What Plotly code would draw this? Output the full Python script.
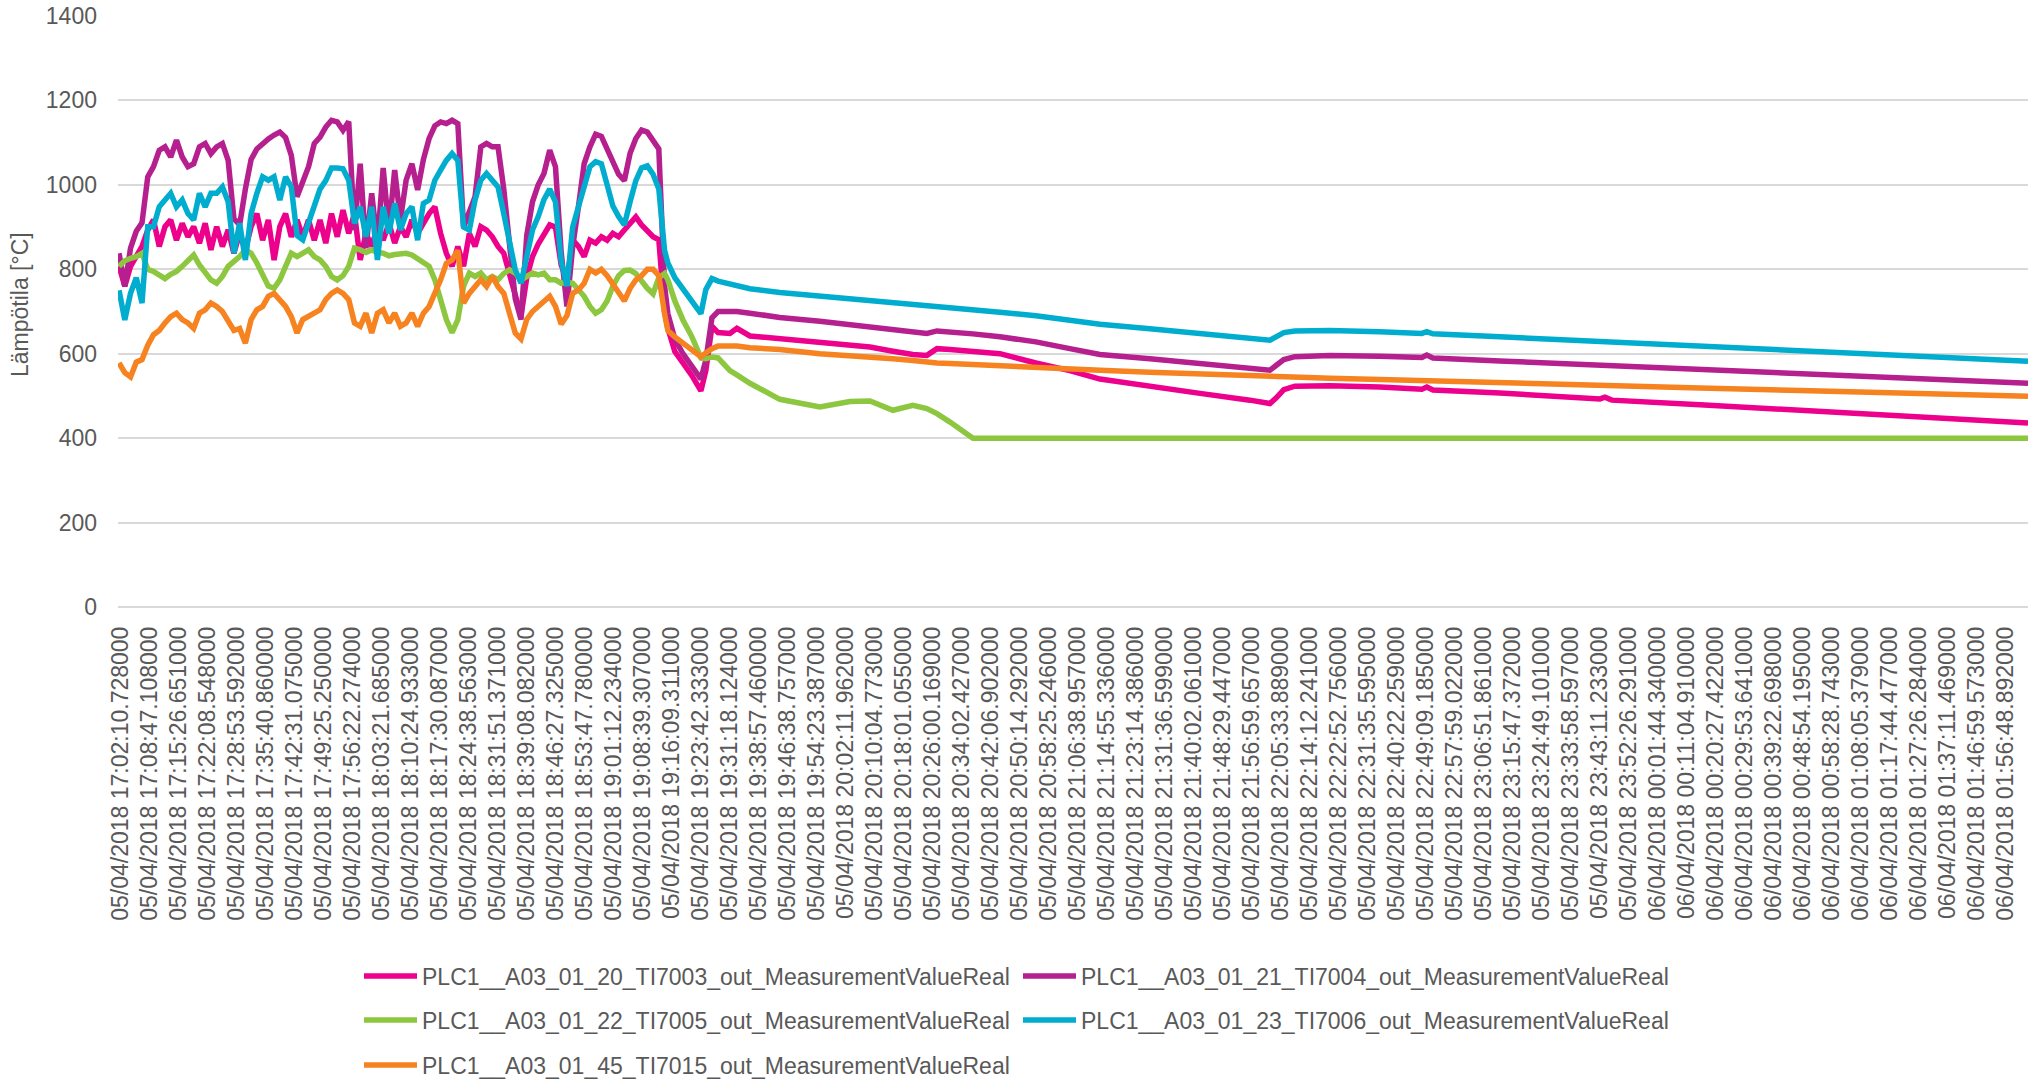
import plotly.graph_objects as go

# ---------------- data ----------------
tick_labels = [
    "05/04/2018 17:02:10.728000", "05/04/2018 17:08:47.108000", "05/04/2018 17:15:26.651000",
    "05/04/2018 17:22:08.548000", "05/04/2018 17:28:53.592000", "05/04/2018 17:35:40.860000",
    "05/04/2018 17:42:31.075000", "05/04/2018 17:49:25.250000", "05/04/2018 17:56:22.274000",
    "05/04/2018 18:03:21.685000", "05/04/2018 18:10:24.933000", "05/04/2018 18:17:30.087000",
    "05/04/2018 18:24:38.563000", "05/04/2018 18:31:51.371000", "05/04/2018 18:39:08.082000",
    "05/04/2018 18:46:27.325000", "05/04/2018 18:53:47.780000", "05/04/2018 19:01:12.234000",
    "05/04/2018 19:08:39.307000", "05/04/2018 19:16:09.311000", "05/04/2018 19:23:42.333000",
    "05/04/2018 19:31:18.124000", "05/04/2018 19:38:57.460000", "05/04/2018 19:46:38.757000",
    "05/04/2018 19:54:23.387000", "05/04/2018 20:02:11.962000", "05/04/2018 20:10:04.773000",
    "05/04/2018 20:18:01.055000", "05/04/2018 20:26:00.169000", "05/04/2018 20:34:02.427000",
    "05/04/2018 20:42:06.902000", "05/04/2018 20:50:14.292000", "05/04/2018 20:58:25.246000",
    "05/04/2018 21:06:38.957000", "05/04/2018 21:14:55.336000", "05/04/2018 21:23:14.386000",
    "05/04/2018 21:31:36.599000", "05/04/2018 21:40:02.061000", "05/04/2018 21:48:29.447000",
    "05/04/2018 21:56:59.657000", "05/04/2018 22:05:33.889000", "05/04/2018 22:14:12.241000",
    "05/04/2018 22:22:52.756000", "05/04/2018 22:31:35.595000", "05/04/2018 22:40:22.259000",
    "05/04/2018 22:49:09.185000", "05/04/2018 22:57:59.022000", "05/04/2018 23:06:51.861000",
    "05/04/2018 23:15:47.372000", "05/04/2018 23:24:49.101000", "05/04/2018 23:33:58.597000",
    "05/04/2018 23:43:11.233000", "05/04/2018 23:52:26.291000", "06/04/2018 00:01:44.340000",
    "06/04/2018 00:11:04.910000", "06/04/2018 00:20:27.422000", "06/04/2018 00:29:53.641000",
    "06/04/2018 00:39:22.698000", "06/04/2018 00:48:54.195000", "06/04/2018 00:58:28.743000",
    "06/04/2018 01:08:05.379000", "06/04/2018 01:17:44.477000", "06/04/2018 01:27:26.284000",
    "06/04/2018 01:37:11.469000", "06/04/2018 01:46:59.573000", "06/04/2018 01:56:48.892000",
]

series_names = [
    "PLC1__A03_01_20_TI7003_out_MeasurementValueReal",
    "PLC1__A03_01_21_TI7004_out_MeasurementValueReal",
    "PLC1__A03_01_22_TI7005_out_MeasurementValueReal",
    "PLC1__A03_01_23_TI7006_out_MeasurementValueReal",
    "PLC1__A03_01_45_TI7015_out_MeasurementValueReal",
]
series_colors = ["#EC008C", "#B51F8E", "#8DC63F", "#00ADCF", "#F68220"]

# sample positions, in units of the category-label index
x_noisy = [round(-0.064 + 0.198 * i, 3) for i in range(96)]
x_tail = [18.86, 19.10, 19.38, 19.69, 20.00, 20.17, 20.38, 20.59, 21.00, 21.24,
          21.69, 22.72, 24.10, 25.14, 25.83, 26.62, 27.31, 27.79, 28.14, 28.59,
          29.38, 30.31, 31.55, 32.72, 33.76, 35.48, 37.21, 38.93, 39.62, 39.83,
          40.10, 40.48, 41.69, 43.41, 44.86, 45.03, 45.24, 47.55, 51.00, 51.17,
          51.41, 54.45, 57.90, 61.34, 64.79, 65.76]

ti7003 = [807, 760, 807, 830, 854, 893, 917, 854, 901, 917,
          869, 909, 877, 901, 862, 909, 846, 901, 854, 893,
          838, 885, 846, 901, 932, 869, 917, 822, 901, 932,
          877, 917, 877, 917, 869, 917, 862, 932, 877, 940,
          885, 932, 822, 885, 854, 901, 869, 909, 862, 901,
          877, 917, 885, 909, 932, 948, 885, 838, 807, 854,
          807, 885, 854, 901, 893, 877, 854, 838, 791, 743,
          690, 780, 830, 860, 880, 905, 900, 810, 775, 869,
          854, 830, 869, 862, 877, 869, 885, 877, 893, 909,
          924, 905, 890, 877, 870, 700,
          660, 605, 578, 548, 512, 560, 665, 650, 648, 660,
          642, 636, 628, 620, 616, 606, 598, 596, 612, 610,
          606, 600, 578, 560, 540, 522, 506, 490, 482, 495,
          515, 523, 524, 521, 516, 521, 514, 507, 493, 497,
          490, 479, 466, 453, 440, 436]

ti7004 = [838, 760, 850, 890, 910, 1019, 1043, 1082, 1090, 1066,
          1106, 1066, 1043, 1050, 1090, 1098, 1074, 1090, 1098, 1058,
          920, 905, 990, 1060, 1085, 1098, 1109, 1118, 1125, 1112,
          1070, 972, 1011, 1043, 1098, 1113, 1137, 1153, 1149, 1129,
          1150, 893, 1050, 850, 980, 860, 1040, 893, 1035, 917,
          1011, 1050, 988, 1060, 1110, 1140, 1149, 1145, 1153, 1145,
          900, 932, 972, 1090, 1098, 1090, 1090, 990, 860, 730,
          681, 880, 960, 1000, 1027, 1082, 1043, 840, 712, 854,
          948, 1050, 1090, 1120, 1115, 1085, 1055, 1025, 1010, 1075,
          1110, 1130, 1125, 1105, 1085, 760,
          695, 635, 600, 570, 540, 585, 685, 700, 702, 700,
          696, 686, 677, 668, 663, 655, 650, 648, 654, 652,
          647, 640, 628, 612, 598, 588, 577, 566, 561, 572,
          586, 593, 596, 594, 591, 597, 590, 583, 573, 573,
          572, 563, 553, 543, 533, 530]

ti7005 = [807, 820, 826, 830, 838, 800, 795, 785, 778, 788,
          795, 807, 822, 834, 810, 791, 775, 767, 783, 807,
          818, 830, 846, 838, 815, 790, 760, 755, 775, 807,
          838, 830, 838, 846, 830, 822, 807, 783, 775, 785,
          807, 850, 846, 840, 846, 840, 838, 832, 835, 838,
          838, 834, 825, 815, 807, 775, 728, 681, 650, 681,
          760, 791, 783, 791, 775, 783, 775, 790, 799, 791,
          775, 783, 791, 787, 791, 775, 775, 767, 770, 767,
          751, 736, 712, 696, 704, 725, 760, 785, 797, 798,
          790, 770, 755, 742, 780, 790,
          775, 725, 680, 640, 590, 588, 592, 590, 560, 550,
          530, 492, 474, 487, 488, 466, 478, 470, 458, 438,
          400, 400, 400, 400, 400, 400, 400, 400, 400, 400,
          400, 400, 400, 400, 400, 400, 400, 400, 400, 400,
          400, 400, 400, 400, 400, 400]

ti7006 = [750, 680, 743, 780, 720, 901, 901, 948, 964, 980,
          948, 964, 932, 917, 980, 948, 980, 980, 995, 960,
          838, 909, 822, 932, 980, 1019, 1011, 1019, 964, 1019,
          995, 880, 870, 910, 960, 990, 1010, 1040, 1040, 1038,
          1011, 909, 948, 877, 948, 822, 948, 885, 956, 893,
          932, 948, 869, 956, 964, 1011, 1035, 1058, 1074, 1058,
          900, 893, 964, 1011, 1027, 1011, 995, 932, 869, 799,
          767, 838, 893, 925, 965, 990, 960, 820, 760, 900,
          948, 995, 1043, 1055, 1050, 1000, 950, 925, 905, 960,
          1010, 1040, 1045, 1025, 990, 845,
          815, 780, 754, 728, 695, 752, 778, 772, 765, 760,
          754, 745, 737, 730, 727, 722, 718, 715, 712, 710,
          705, 698, 690, 680, 670, 659, 648, 637, 632, 640,
          650, 654, 655, 652, 648, 652, 647, 640, 629, 629,
          628, 618, 607, 596, 585, 582]

ti7015 = [578, 555, 545, 580, 586, 620, 645, 655, 673, 688,
          696, 681, 673, 660, 696, 704, 720, 712, 700, 680,
          655, 660, 625, 681, 704, 712, 736, 743, 728, 712,
          688, 649, 681, 688, 696, 704, 728, 743, 751, 743,
          728, 673, 665, 696, 649, 696, 704, 673, 696, 665,
          673, 696, 665, 696, 712, 743, 775, 814, 822, 845,
          720, 743, 759, 775, 759, 783, 759, 743, 696, 649,
          635, 681, 700, 712, 725, 736, 712, 670, 690, 743,
          751, 767, 800, 791, 800, 785, 765, 745, 725, 755,
          775, 785, 800, 800, 785, 695,
          655, 640, 625, 610, 593, 602, 612, 618, 620, 618,
          614, 610, 600, 596, 592, 588, 584, 580, 578, 577,
          575, 573, 569, 565, 561, 556, 552, 547, 544, 544,
          543, 543, 542, 539, 536, 537, 536, 532, 526, 526,
          525, 519, 513, 507, 501, 499]

y_ticks = [0, 200, 400, 600, 800, 1000, 1200, 1400]
y_title = "Lämpötila [°C]"

# ---------------- figure ----------------
W, H = 2031, 1081
ML, MR, MT, MB = 118, 3, 16, 474
FONT = "Liberation Sans, Arial, sans-serif"
TXT = "#595959"
GRID = "#D9D9D9"

x_all = x_noisy + x_tail
values = [ti7003, ti7004, ti7005, ti7006, ti7015]
legend_ids = ["legend", "legend2", "legend3", "legend4", "legend5"]

fig = go.Figure()
for name, col, vals, lg in zip(series_names, series_colors, values, legend_ids):
    fig.add_trace(go.Scatter(
        x=x_all, y=vals, mode="lines", name=name,
        line=dict(color=col, width=5.5, shape="linear"),
        legend=lg, hoverinfo="skip",
    ))

plot_w = W - ML - MR
plot_h = H - MT - MB


def px_to_paper_x(px):
    return (px - ML) / plot_w


def py_to_paper_y(py):
    return (H - MB - py) / plot_h


col_x = [359, 1018]
row_y = [976, 1020, 1065]
legend_pos = [(col_x[0], row_y[0]), (col_x[1], row_y[0]),
              (col_x[0], row_y[1]), (col_x[1], row_y[1]),
              (col_x[0], row_y[2])]

layout_legends = {}
for lg, (lx, ly) in zip(legend_ids, legend_pos):
    layout_legends[lg] = dict(
        x=px_to_paper_x(lx), y=py_to_paper_y(ly),
        xanchor="left", yanchor="middle", orientation="h",
        itemwidth=53, bgcolor="rgba(0,0,0,0)", borderwidth=0,
        font=dict(family=FONT, size=23, color=TXT),
    )

fig.update_layout(
    template="none",
    width=W, height=H,
    margin=dict(l=ML, r=MR, t=MT, b=MB, pad=0, autoexpand=False),
    paper_bgcolor="white", plot_bgcolor="white",
    font=dict(family=FONT, size=23, color=TXT),
    showlegend=True,
    annotations=[dict(
        text=y_title, textangle=-90, showarrow=False,
        xref="paper", yref="paper",
        x=px_to_paper_x(20), y=py_to_paper_y(305),
        xanchor="center", yanchor="middle",
        font=dict(family=FONT, size=23, color=TXT),
    )],
    **layout_legends,
)

fig.update_xaxes(
    range=[-0.1, 65.76],
    tickmode="array", tickvals=list(range(len(tick_labels))), ticktext=tick_labels,
    tickangle=-90, showgrid=False, zeroline=False, showline=False, ticks="",
    tickfont=dict(family=FONT, size=23, color=TXT),
    ticklabelstandoff=14, automargin=False,
)
fig.update_yaxes(
    range=[0, 1400], tickmode="array", tickvals=y_ticks,
    showgrid=True, gridcolor=GRID, gridwidth=1.6,
    zeroline=True, zerolinecolor=GRID, zerolinewidth=1.6,
    showline=False, ticks="",
    tickfont=dict(family=FONT, size=23, color=TXT),
    ticklabelstandoff=20, automargin=False,
)

fig.write_html("out.html", config={"displayModeBar": False},
               post_script="document.body.style.margin='0px';")
